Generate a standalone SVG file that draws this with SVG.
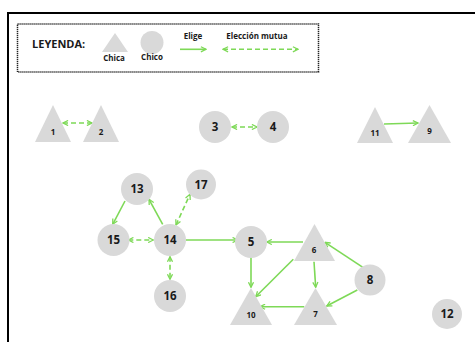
<svg xmlns="http://www.w3.org/2000/svg" width="475" height="342" viewBox="0 0 475 342">
<style>
.n{fill:#d9d9d9}
.t{font-family:"Open Sans","Liberation Sans",sans-serif;font-weight:bold;fill:#1a1a1a;text-anchor:middle}
.c{font-size:11.5px}
.s{font-size:8px}
.e{stroke:#7ed957;stroke-width:1.6;fill:none;marker-end:url(#ah)}
.m{stroke-dasharray:5 3;marker-start:url(#as)}
.l{font-size:8px}
</style>
<defs>
<marker id="ah" viewBox="0 0 10 10" refX="9" refY="5" markerWidth="4" markerHeight="4" orient="auto" markerUnits="strokeWidth">
<path d="M1,1 L9,5 L1,9" fill="none" stroke="#7ed957" stroke-width="2"/>
</marker>
<marker id="as" viewBox="0 0 10 10" refX="1" refY="5" markerWidth="4" markerHeight="4" orient="auto" markerUnits="strokeWidth">
<path d="M9,1 L1,5 L9,9" fill="none" stroke="#7ed957" stroke-width="2"/>
</marker>
</defs>
<rect width="475" height="342" fill="#fff"/>
<path d="M8,342 V13 H475" fill="none" stroke="#000" stroke-width="2"/>
<g id="legend">
<rect x="17.5" y="24" width="301" height="48" fill="none" stroke="#222" stroke-width="1.5" stroke-dasharray="1.2 0.8"/>
<text x="32" y="48" class="t" style="font-size:11px;text-anchor:start">LEYENDA:</text>
<polygon class="n" points="102,52 115,33 128,52"/>
<text x="114" y="61" class="t l">Chica</text>
<circle class="n" cx="152" cy="42.5" r="11.5"/>
<text x="152" y="60" class="t l">Chico</text>
<text x="193" y="39" class="t l">Elige</text>
<line class="e" x1="180" y1="49.3" x2="206" y2="49.3"/>
<text x="257" y="39" class="t l">Elección mutua</text>
<line class="e m" x1="223" y1="49.3" x2="298" y2="49.3"/>
</g>
<g id="connectors">
<line class="e m" x1="63" y1="123" x2="92" y2="123"/>
<line class="e m" x1="232" y1="127" x2="257" y2="127"/>
<line class="e" x1="384" y1="124" x2="418" y2="123"/>
<line class="e" x1="125" y1="201" x2="112.7" y2="224.3"/>
<line class="e" x1="162.7" y1="224.3" x2="149" y2="199.3"/>
<line class="e m" x1="176" y1="225" x2="190" y2="194.3"/>
<line class="e m" x1="128.3" y1="240" x2="153.3" y2="240"/>
<line class="e m" x1="170" y1="256.7" x2="170" y2="279.3"/>
<line class="e" x1="186" y1="240" x2="237.7" y2="240"/>
<line class="e" x1="303" y1="242" x2="266.7" y2="242"/>
<line class="e" x1="251" y1="256.7" x2="251" y2="287.3"/>
<line class="e" x1="293.3" y1="259.3" x2="255.7" y2="296.7"/>
<line class="e" x1="314" y1="261.7" x2="315.7" y2="287.3"/>
<line class="e" x1="363.3" y1="267.7" x2="325" y2="242.3"/>
<line class="e" x1="357.3" y1="290" x2="326.7" y2="306"/>
<line class="e" x1="304.3" y1="306.7" x2="260" y2="306.7"/>
</g>
<g id="n1"><polygon class="n" points="35,142 53,105 71,142"/><text x="53" y="135" class="t s">1</text></g>
<g id="n2"><polygon class="n" points="83,142 101,105 119,142"/><text x="101" y="135" class="t s">2</text></g>
<g id="n3"><circle class="n" cx="215" cy="127" r="16"/><text x="215" y="131" class="t c">3</text></g>
<g id="n4"><circle class="n" cx="273" cy="127" r="16"/><text x="273" y="131" class="t c">4</text></g>
<g id="n11"><polygon class="n" points="357,143 375,107 393,143"/><text x="375" y="136" class="t s">11</text></g>
<g id="n9"><polygon class="n" points="408,143 429.5,105 451,143"/><text x="429.5" y="134" class="t s">9</text></g>
<g id="n13"><circle class="n" cx="137" cy="189" r="16"/><text x="137" y="193" class="t c">13</text></g>
<g id="n17"><circle class="n" cx="201" cy="184.5" r="15"/><text x="201" y="188.5" class="t c">17</text></g>
<g id="n15"><circle class="n" cx="113.5" cy="240" r="16"/><text x="113.5" y="244" class="t c">15</text></g>
<g id="n14"><circle class="n" cx="170" cy="240" r="16"/><text x="170" y="244" class="t c">14</text></g>
<g id="n16"><circle class="n" cx="170" cy="296" r="16"/><text x="170" y="300" class="t c">16</text></g>
<g id="n5"><circle class="n" cx="251" cy="242" r="16"/><text x="251" y="246" class="t c">5</text></g>
<g id="n6"><polygon class="n" points="294,261 314.5,224 335,261"/><text x="314" y="253" class="t s">6</text></g>
<g id="n8"><circle class="n" cx="370" cy="280" r="15.5"/><text x="370" y="284" class="t c">8</text></g>
<g id="n10"><polygon class="n" points="230,325 251,288 272,325"/><text x="251" y="318" class="t s">10</text></g>
<g id="n7"><polygon class="n" points="294,325 315.5,288 337,325"/><text x="315.5" y="317" class="t s">7</text></g>
<g id="n12"><circle class="n" cx="447" cy="314" r="15"/><text x="447" y="318" class="t c">12</text></g>
</svg>
